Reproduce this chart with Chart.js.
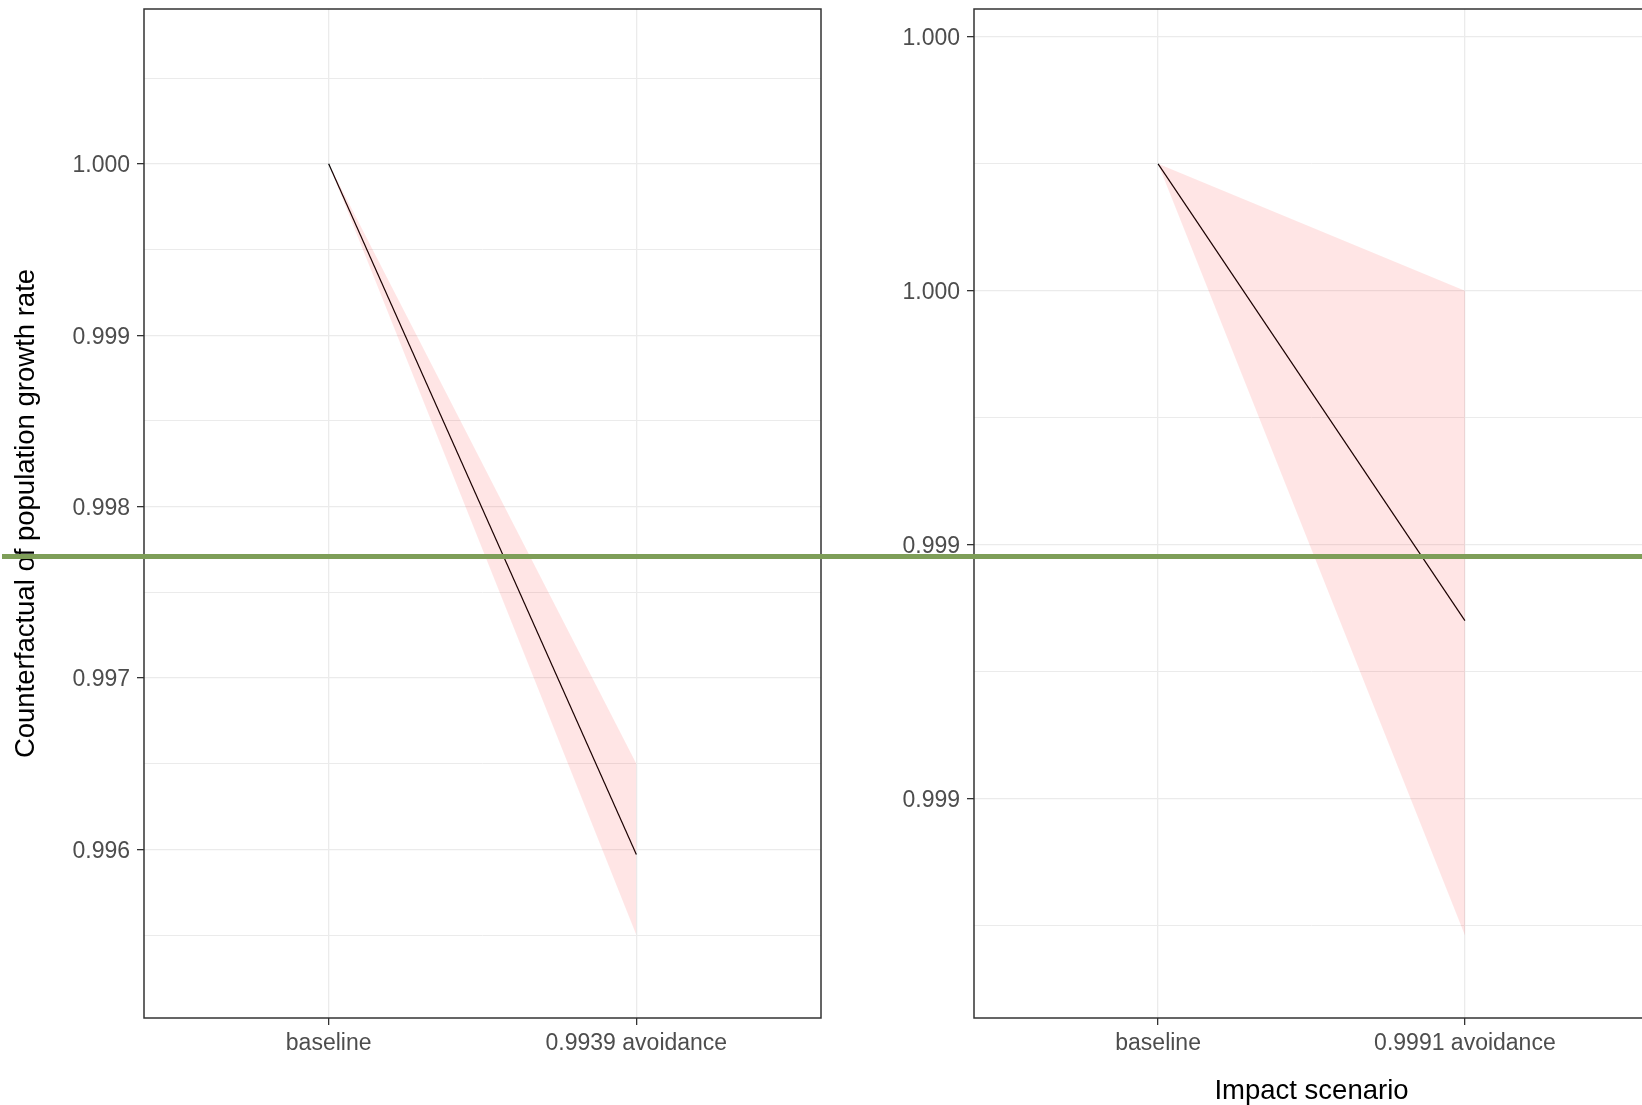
<!DOCTYPE html>
<html lang="en">
<head>
<meta charset="UTF-8">
<title>Counterfactual of population growth rate</title>
<style>
  html, body { margin: 0; padding: 0; width: 1642px; height: 1105px; overflow: hidden; background: #fff; }
  #left { position: absolute; left: 0; top: 0; width: 840px; height: 1105px; }
  #right { position: absolute; left: 850px; top: 0; width: 820px; height: 1105px; }
  #mark { position: absolute; left: 2px; top: 554px; width: 1640px; height: 5px; background: #7e9e58; }
</style>
</head>
<body>
<div id="left"><canvas id="leftChart"></canvas></div>
<div id="right"><canvas id="rightChart"></canvas></div>
<div id="mark"></div>
<script src="https://cdn.jsdelivr.net/npm/chart.js"></script>
<script>
// left panel
const leftCategories = ['baseline', '0.9939 avoidance'];
const leftMean = [1.0, 0.99597];
const leftLower = [1.0, 0.9955];
const leftUpper = [1.0, 0.9965];
const leftTicks = [0.996, 0.997, 0.998, 0.999, 1.000];
const leftRange = [0.995016, 1.000903];

// right panel
const rightCategories = ['baseline', '0.9991 avoidance'];
const rightMean = [1.0, 0.9991];
const rightLower = [1.0, 0.99848];
const rightUpper = [1.0, 0.99975];
const rightTicks = [0.99875, 0.99925, 0.99975, 1.00025];
const rightRange = [0.998317, 1.000305];

Chart.defaults.font.family = '"Liberation Sans", Arial, sans-serif';
Chart.defaults.animation = false;

const tickFont = { size: 23 };
const titleFont = { size: 27.5 };

// majors plus half-step minor gridlines, like ggplot
function withMinor(major, range) {
    const step = major[1] - major[0];
    const out = major.map(v => ({ value: v }));
    [major[0] - step / 2, ...major.map(v => v + step / 2)].forEach(v => {
        if (v > range[0] && v < range[1]) out.push({ value: v, minor: true });
    });
    return out.sort((a, b) => a.value - b.value);
}

const panelBorder = {
    id: 'panelBorder',
    afterDraw(chart) {
        const a = chart.chartArea;
        const ctx = chart.ctx;
        ctx.save();
        ctx.strokeStyle = '#333';
        ctx.lineWidth = 1.5;
        ctx.strokeRect(a.left, a.top, a.right - a.left, a.bottom - a.top);
        ctx.restore();
    }
};

function points(values) {
    return values.map((v, i) => ({ x: i + 1, y: v }));
}

function makeChart(id, cats, mean, lower, upper, ticks, range, opt) {
    const ctx = document.getElementById(id).getContext('2d');
    return new Chart(ctx, {
        type: 'line',
        data: {
            datasets: [
                { data: points(lower), borderWidth: 0, pointRadius: 0, fill: false },
                { data: points(upper), borderWidth: 0, pointRadius: 0, fill: '-1', backgroundColor: 'rgba(255, 0, 0, 0.1)' },
                { data: points(mean), borderColor: '#000', borderWidth: 1.2, pointRadius: 0, fill: false }
            ]
        },
        options: {
            responsive: true,
            maintainAspectRatio: false,
            layout: { autoPadding: false, padding: { top: 9, right: opt.padRight, bottom: 0, left: 0 } },
            plugins: { legend: { display: false }, tooltip: { enabled: false } },
            scales: {
                x: {
                    type: 'linear',
                    min: 0.4,
                    max: 2.6,
                    afterBuildTicks: s => { s.ticks = cats.map((c, i) => ({ value: i + 1 })); },
                    afterFit: s => { s.height = 87; s.paddingLeft = 0; s.paddingRight = 0; },
                    border: { display: false },
                    grid: { color: '#ebebeb', lineWidth: 1.3, tickLength: 7, tickColor: '#333', tickWidth: 1.3 },
                    ticks: {
                        autoSkip: false, maxRotation: 0, padding: 5,
                        color: '#4d4d4d', font: tickFont,
                        callback: v => cats[Math.round(v) - 1]
                    },
                    title: {
                        display: !!opt.xTitle, text: opt.xTitle || '',
                        color: '#000', font: titleFont, padding: { top: 0, bottom: -3 }
                    }
                },
                y: {
                    type: 'linear',
                    min: range[0],
                    max: range[1],
                    afterBuildTicks: s => { s.ticks = withMinor(ticks, range); },
                    afterFit: s => { s.width = opt.yWidth; s.paddingTop = 0; s.paddingBottom = 0; },
                    border: { display: false },
                    grid: {
                        color: '#ebebeb',
                        lineWidth: c => (c.tick && c.tick.minor) ? 1.0 : 1.3,
                        tickLength: 7,
                        tickWidth: 1.3,
                        tickColor: c => (c.tick && c.tick.minor) ? 'rgba(0,0,0,0)' : '#333'
                    },
                    ticks: {
                        autoSkip: false, padding: 7, labelOffset: 2,
                        color: '#4d4d4d', font: tickFont,
                        callback: (v, i, all) => all[i].minor ? '' : v.toFixed(3)
                    },
                    title: {
                        display: !!opt.yTitle, text: opt.yTitle || '',
                        color: '#000', font: titleFont, padding: { top: 10, bottom: 0 }
                    }
                }
            }
        },
        plugins: [panelBorder]
    });
}

makeChart('leftChart', leftCategories, leftMean, leftLower, leftUpper, leftTicks, leftRange,
    { yWidth: 144, padRight: 19, yTitle: 'Counterfactual of population growth rate' });
makeChart('rightChart', rightCategories, rightMean, rightLower, rightUpper, rightTicks, rightRange,
    { yWidth: 124, padRight: 21, xTitle: 'Impact scenario' });
</script>
</body>
</html>
